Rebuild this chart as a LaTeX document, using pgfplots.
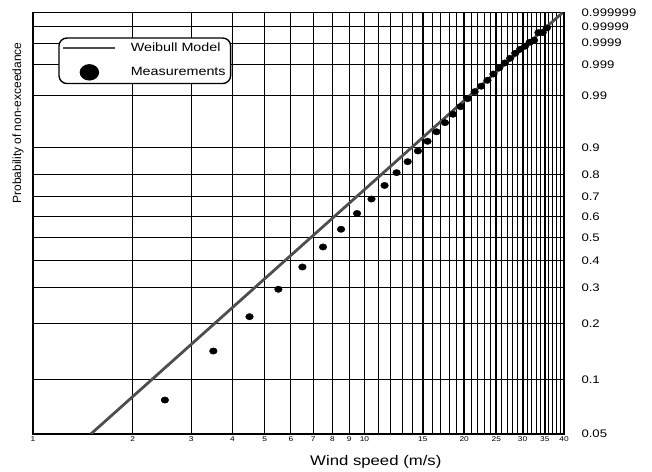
\documentclass[border=0pt]{standalone}
\usepackage{fontspec}
\setmainfont[FakeStretch=1.2]{Liberation Sans}
\newfontfamily\plainsans{Liberation Sans}
\usepackage{pgfplots}
\pgfplotsset{compat=1.18}
\definecolor{modelgray}{RGB}{78,78,78}

% y values are ln(-ln(1-P)), the Weibull probability scale
\pgfplotstableread{
x y
2.5 -2.519
3.5 -1.868
4.5 -1.412
5.5 -1.048
6.5 -0.752
7.5 -0.486
8.5 -0.251
9.5 -0.041
10.5 0.151
11.5 0.331
12.5 0.501
13.5 0.647
14.5 0.789
15.5 0.918
16.5 1.044
17.5 1.165
18.5 1.277
19.5 1.378
20.5 1.484
21.5 1.577
22.5 1.649
23.5 1.728
24.5 1.812
25.5 1.892
26.5 1.958
27.5 2.020
28.5 2.087
29.5 2.140
30.5 2.180
31.5 2.233
32.5 2.260
33.5 2.361
34.5 2.361
35.5 2.423
}\measured

\begin{document}
\begin{tikzpicture}
\path (0,0) rectangle (652bp,471bp);
\begin{axis}[
  at={(33bp,37bp)}, anchor=south west,
  scale only axis, width=531bp, height=421.3bp,
  xmode=log, xmin=1, xmax=40,
  ymin=-2.9702, ymax=2.6258,
  axis line style={line width=1.1bp},
  major tick length=0pt, minor tick length=0pt,
  xmajorgrids, xminorgrids, ymajorgrids,
  major grid style={black, line width=1bp},
  minor grid style={black, line width=1bp},
  xtick={1,2,3,4,5,6,7,8,9,10},
  xticklabels={1,2,3,4,5,6,7,8,9,10},
  minor xtick={11,12,13,14,16,17,18,19,21,22,23,24,26,27,28,29,31,32,33,34,36,37,38,39},
  extra x ticks={15,20,25,30,35,40},
  extra x tick labels={15,20,25,30,35,40},
  extra x tick style={grid=major, major grid style={black, line width=1.9bp}},
  xticklabel style={font=\fontsize{7}{8}\selectfont, yshift=1bp},
  ytick={-2.97020,-2.25037,-1.49994,-1.03093,-0.67173,-0.36651,-0.08742,0.18563,0.47588,0.83403,1.52718,1.93264,2.22029,2.44347,2.62579},
  yticklabels={0.05,0.1,0.2,0.3,0.4,0.5,0.6,0.7,0.8,0.9,0.99,0.999,0.9999,0.99999,0.999999},
  yticklabel pos=right,
  yticklabel style={anchor=west, xshift=14bp, font=\fontsize{11}{13}\selectfont},
  xlabel={Wind speed (m/s)},
  xlabel style={at={(axis description cs:0.6456,-0.066)}, anchor=center, font=\fontsize{14}{16}\selectfont},
  ylabel={\plainsans Probability of non-exceedance},
  ylabel style={at={(axis description cs:-0.0282,0.738)}, anchor=center, font=\fontsize{12}{14}\selectfont},
  legend style={at={(axis description cs:0.0476,0.9416)}, anchor=north west,
    draw=black, line width=1.4bp, rounded corners=8bp, fill=white,
    font=\fontsize{12}{14}\selectfont, inner xsep=3bp, inner ysep=3bp,
    row sep=9bp,
    /tikz/every odd column/.append style={column sep=12bp}},
  legend cell align=left,
]
\addplot[modelgray, line width=2.8bp,
  legend image code/.code={\draw[modelgray, line width=2.8bp] (0bp,0bp) -- (52bp,0bp);}]
  coordinates {(1.495,-2.9702) (39.6,2.6258)};
\addlegendentry{Weibull Model}
\addplot[only marks, mark=*, mark size=3.2bp, mark options={xscale=1.2, fill=black, draw=black},
  legend image code/.code={\fill[black] (26bp,0bp) ellipse (9bp and 7.5bp);}]
  table[x=x, y=y] {\measured};
\addlegendentry{Measurements}
\end{axis}
\end{tikzpicture}
\end{document}
